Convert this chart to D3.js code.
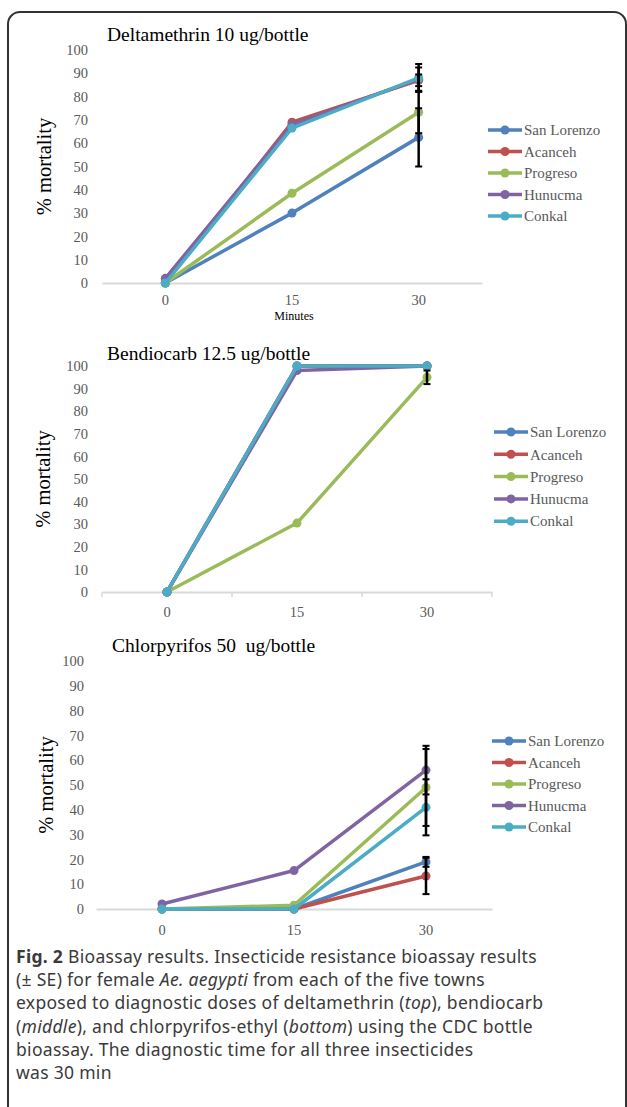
<!DOCTYPE html>
<html>
<head>
<meta charset="utf-8">
<script src="https://cdn.jsdelivr.net/npm/d3@7"></script>
<style>
  body { margin: 0; background: #fff; }
  text { white-space: pre; }
</style>
</head>
<body>
<script>
// data
const minutes = [0, 15, 30];
const towns = ['San Lorenzo', 'Acanceh', 'Progreso', 'Hunucma', 'Conkal'];
const townColors = ['#4F81BD', '#C0504D', '#9BBB59', '#8064A2', '#4BACC6'];
const yTicks = [0, 10, 20, 30, 40, 50, 60, 70, 80, 90, 100];

// % mortality at 0, 15, 30 minutes, one row per town
const deltaValues = [[0, 30, 62.5], [0, 69, 87], [0, 38.5, 73.3], [2, 68, 87.5], [0, 66.5, 88]];
const deltaSE = [12.5, 2.5, 9, 5, 6];
const bendioValues = [[0, 100, 100], [0, 100, 100], [0, 30.5, 95], [0, 98, 100], [0, 100, 100]];
const bendioSE = [0, 0, 3, 0, 0];
const chlorValues = [[0, 0, 19], [0, 0, 13.3], [0, 1.5, 49], [2, 15.5, 56], [0, 0, 41]];
const chlorSE = [2, 7.3, 15.5, 9.8, 11.3];

const captionLines = [
  [['Fig. 2', 'bold'], [' Bioassay results. Insecticide resistance bioassay results', '']],
  [['(\u00b1 SE) for female ', ''], ['Ae. aegypti', 'italic'], [' from each of the five towns', '']],
  [['exposed to diagnostic doses of deltamethrin (', ''], ['top', 'italic'], ['), bendiocarb', '']],
  [['(', ''], ['middle', 'italic'], ['), and chlorpyrifos-ethyl (', ''], ['bottom', 'italic'], [') using the CDC bottle', '']],
  [['bioassay. The diagnostic time for all three insecticides', '']],
  [['was 30 min', '']]
];

const serif = "'Liberation Serif', 'DejaVu Serif', serif";

const svg = d3.select('body').append('svg')
              .attr('width', 627)
              .attr('height', 1107);

// outer frame
svg.append('rect')
   .attr('x', 8).attr('y', 12).attr('rx', 12).attr('ry', 12)
   .attr('width', 618).attr('height', 1120)
   .style('fill', 'none').style('stroke', '#333').style('stroke-width', 2);

function drawPanel(p) {
  const g = svg.append('g');
  const x = d3.scaleBand().domain(minutes).range([p.x0, p.x1]);
  const cx = d => x(d) + x.bandwidth() / 2;
  const y = d3.scaleLinear().domain([0, 100]).range([p.yBottom, p.yTop]);

  // title
  g.append('text').attr('x', p.titleX).attr('y', p.titleY)
   .text(p.title).style('font-family', serif).style('font-size', '19.5px').style('fill', '#000');

  // y axis
  const ya = g.append('g').attr('transform', `translate(${p.yLabelX},0)`)
              .call(d3.axisLeft(y).tickValues(yTicks).tickSize(0).tickPadding(0));
  ya.select('.domain').remove();
  ya.selectAll('text').style('font-family', serif).style('font-size', '14.5px').style('fill', '#595959');

  g.append('text')
   .attr('transform', `translate(${p.yTitleX},${(p.yTop + p.yBottom) / 2}) rotate(-90)`)
   .attr('text-anchor', 'middle')
   .text('% mortality').style('font-family', serif).style('font-size', '20.5px').style('fill', '#000');

  // x axis
  const xa = g.append('g').attr('transform', `translate(0,${p.yBottom})`)
              .call(d3.axisBottom(x).tickSize(0).tickPadding(p.tickPad));
  xa.select('.domain').style('stroke', '#d9d9d9').style('stroke-width', 2);
  xa.selectAll('text').style('font-family', serif).style('font-size', '14.5px').style('fill', '#595959');
  if (p.boundaryTicks) {
    const edges = minutes.map(d => x(d)).concat([p.x1]);
    g.selectAll('line.edge').data(edges).join('line').attr('class', 'edge')
     .attr('x1', d => d).attr('x2', d => d)
     .attr('y1', p.yBottom).attr('y2', p.yBottom + 5)
     .style('stroke', '#d9d9d9').style('stroke-width', 1.5);
  }
  if (p.xTitle) {
    g.append('text').attr('x', cx(15) + 2).attr('y', p.yBottom + 37)
     .attr('text-anchor', 'middle').text(p.xTitle)
     .style('font-family', serif).style('font-size', '12px').style('fill', '#000');
  }

  // lines and markers
  const line = d3.line().x((d, i) => cx(minutes[i])).y(d => y(d));
  p.values.forEach((vals, k) => {
    g.append('path').datum(vals).attr('d', line)
     .style('fill', 'none').style('stroke', townColors[k]).style('stroke-width', 3.5)
     .style('stroke-linejoin', 'round');
    g.selectAll(null).data(vals).join('circle')
     .attr('cx', (d, i) => cx(minutes[i])).attr('cy', d => y(d)).attr('r', 4.5)
     .style('fill', townColors[k]);
  });

  // error bars at 30 min
  p.values.forEach((vals, k) => {
    const se = p.se[k];
    if (!se) return;
    const v = vals[2], xx = cx(30);
    g.append('line').attr('x1', xx).attr('x2', xx).attr('y1', y(v - se)).attr('y2', y(v + se))
     .style('stroke', '#000').style('stroke-width', 2.5);
    [v - se, v + se].forEach(e => {
      g.append('line').attr('x1', xx - 3.5).attr('x2', xx + 3.5).attr('y1', y(e)).attr('y2', y(e))
       .style('stroke', '#000').style('stroke-width', 2);
    });
  });

  // legend
  const lg = g.append('g');
  towns.forEach((t, k) => {
    const ly = p.legY + k * p.legStep;
    lg.append('line').attr('x1', p.legX).attr('x2', p.legX + 34).attr('y1', ly).attr('y2', ly)
      .style('stroke', townColors[k]).style('stroke-width', 3.5);
    lg.append('circle').attr('cx', p.legX + 17).attr('cy', ly).attr('r', 4.5).style('fill', townColors[k]);
    lg.append('text').attr('x', p.legX + 36).attr('y', ly).attr('dy', '0.35em')
      .text(t).style('font-family', serif).style('font-size', '15px').style('fill', '#595959');
  });
}

drawPanel({
  title: 'Deltamethrin 10 ug/bottle', titleX: 107, titleY: 41,
  values: deltaValues, se: deltaSE,
  x0: 102, x1: 482, yTop: 50, yBottom: 283, yLabelX: 88, yTitleX: 51, tickPad: 12,
  xTitle: 'Minutes', boundaryTicks: false,
  legX: 488, legY: 130, legStep: 21.5
});

drawPanel({
  title: 'Bendiocarb 12.5 ug/bottle', titleX: 107, titleY: 360,
  values: bendioValues, se: bendioSE,
  x0: 102, x1: 492, yTop: 366, yBottom: 592, yLabelX: 88, yTitleX: 50, tickPad: 15,
  boundaryTicks: true,
  legX: 494, legY: 432, legStep: 22.3
});

drawPanel({
  title: 'Chlorpyrifos 50  ug/bottle', titleX: 112, titleY: 652,
  values: chlorValues, se: chlorSE,
  x0: 96, x1: 492, yTop: 661, yBottom: 909, yLabelX: 84, yTitleX: 53, tickPad: 16,
  boundaryTicks: false,
  legX: 492, legY: 741, legStep: 21.5
});

// caption
const cap = svg.append('g');
captionLines.forEach((parts, i) => {
  const t = cap.append('text').attr('x', 16).attr('y', 963 + i * 23.2)
               .style('font-family', "'Noto Sans', 'Open Sans', sans-serif")
               .style('font-size', '17.5px').style('letter-spacing', '0.3px')
               .style('fill', '#3a3a3a');
  parts.forEach(([s, st]) => {
    t.append('tspan').text(s)
     .style('font-weight', st === 'bold' ? 'bold' : 'normal')
     .style('font-style', st === 'italic' ? 'italic' : 'normal');
  });
});
</script>
</body>
</html>
